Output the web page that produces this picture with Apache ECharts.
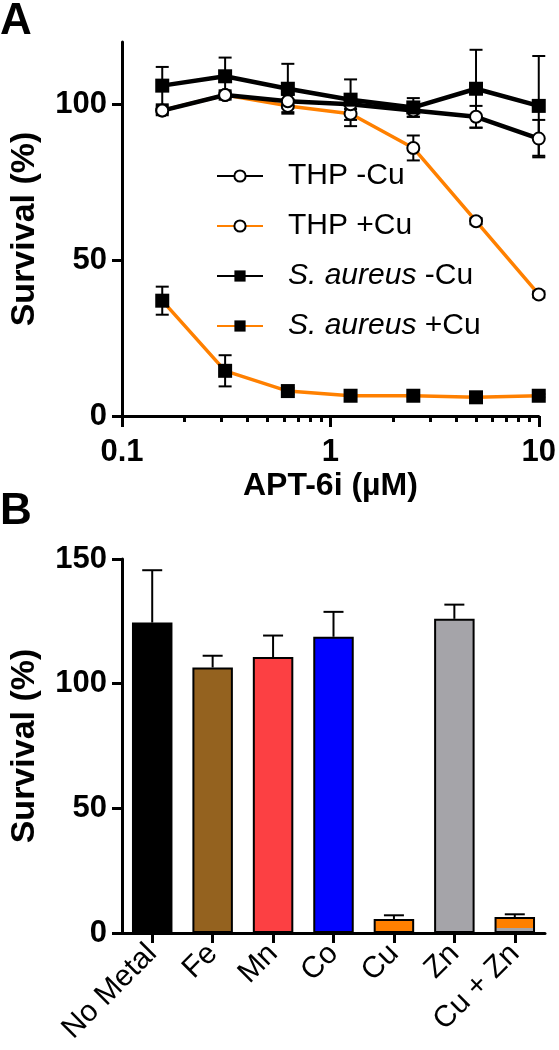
<!DOCTYPE html>
<html><head><meta charset="utf-8">
<script src="https://cdn.jsdelivr.net/npm/echarts@6/dist/echarts.min.js"></script>
<style>html,body{margin:0;padding:0;background:#fff}#c{width:559px;height:1050px}</style>
</head><body><div id="c"></div>
<script>
// ---------- Panel A data ----------
const doses = [0.156, 0.3125, 0.625, 1.25, 2.5, 5, 10];
const thpMinusCu = [98, 103, 101, 100, 98, 96, 89];
const thpMinusCuErr = [1.5, 1.5, 2, 1.5, 2, 3.5, 6];
const thpPlusCu = [98, 103, 99.5, 97, 86, 62.5, 39];
const thpPlusCuErr = [1, 1, 2, 4, 4, 1, 1];
const saMinusCu = [106, 109, 105, 101.5, 99, 105, 99.5];
const saMinusCuErr = [6, 6, 8, 6.5, 3, 12.5, 16];
const saPlusCu = [37, 14.5, 8, 6.5, 6.5, 6, 6.5];
const saPlusCuErr = [4.5, 5, 1, 0.5, 0.5, 0.5, 0.5];
const xMajorTicks = [0.1, 1, 10];
const xMinorTicks = [0.2, 0.3, 0.4, 0.5, 0.6, 0.7, 0.8, 0.9, 2, 3, 4, 5, 6, 7, 8, 9];
const yTicksA = [0, 50, 100];
const seriesNames = ['THP -Cu', 'THP +Cu', 'S. aureus -Cu', 'S. aureus +Cu'];

// ---------- Panel B data ----------
const metals = ['No Metal', 'Fe', 'Mn', 'Co', 'Cu', 'Zn', 'Cu + Zn'];
const metalSurvival = [124.5, 106.5, 110.7, 118.8, 5.6, 126, 6.4];
const metalErr = [21, 4.7, 8.6, 10, 1.5, 5.7, 1.1];
const cuZnGrayPart = 2;
const metalColors = ['#000000', '#94621f', '#fc4043', '#0000fe', '#ff8000', '#a5a4a9', '#ff8000'];

const FONT = "'Liberation Sans', Arial, sans-serif";
const ORANGE = '#ff8000';

function pairs(ys) { return doses.map((d, i) => [d, ys[i]]); }
function errData(ys, es) { return doses.map((d, i) => [d, ys[i], es[i]]); }

function errA(params, api) {
  const x = api.value(0), y = api.value(1), e = api.value(2);
  const top = api.coord([x, y + e]);
  const bot = api.coord([x, Math.max(y - e, 0)]);
  const w = 6.5;
  const st = { stroke: '#000', lineWidth: 2 };
  return { type: 'group', children: [
    { type: 'line', shape: { x1: top[0], y1: top[1], x2: bot[0], y2: bot[1] }, style: st },
    { type: 'line', shape: { x1: top[0] - w, y1: top[1], x2: top[0] + w, y2: top[1] }, style: st },
    { type: 'line', shape: { x1: bot[0] - w, y1: bot[1], x2: bot[0] + w, y2: bot[1] }, style: st }
  ]};
}
function errB(params, api) {
  const x = api.value(0), y = api.value(1), e = api.value(2);
  const base = api.coord([x, y]);
  const top = api.coord([x, y + e]);
  const w = 10;
  const st = { stroke: '#000', lineWidth: 2 };
  return { type: 'group', children: [
    { type: 'line', shape: { x1: base[0], y1: base[1], x2: top[0], y2: top[1] }, style: st },
    { type: 'line', shape: { x1: top[0] - w, y1: top[1], x2: top[0] + w, y2: top[1] }, style: st }
  ]};
}

const axisLineStyle = { color: '#000', width: 3 };
const tickLabel = { color: '#000', fontFamily: FONT, fontWeight: 'bold', fontSize: 31 };
const nameStyle = { color: '#000', fontFamily: FONT, fontWeight: 'bold', fontSize: 34 };

const cuZnFrac = cuZnGrayPart / metalSurvival[6];
const barData = metalSurvival.map((v, i) => ({
  value: v,
  itemStyle: {
    color: i === 6 ? { type: 'linear', x: 0, y: 1, x2: 0, y2: 0, colorStops: [
      { offset: 0, color: metalColors[5] }, { offset: cuZnFrac, color: metalColors[5] },
      { offset: cuZnFrac, color: ORANGE }, { offset: 1, color: ORANGE }] } : metalColors[i]
  }
}));

const chart = echarts.init(document.getElementById('c'), null, { renderer: 'canvas' });
chart.setOption({
  animation: false,
  backgroundColor: '#fff',
  textStyle: { fontFamily: FONT },
  graphic: [
    { type: 'text', left: 0, top: 0, style: { text: 'A', font: "bold 44px " + FONT, fill: '#000' } },
    { type: 'text', left: 0, top: 490, style: { text: 'B', font: "bold 44px " + FONT, fill: '#000' } }
  ],
  grid: [
    { left: 113, right: 18, top: 42, height: 374 },
    { left: 115, right: 14, top: 559, height: 374 }
  ],
  legend: {
    left: 211, top: 156, orient: 'vertical', itemWidth: 46, itemHeight: 14, itemGap: 20,
    selectedMode: false,
    data: seriesNames,
    formatter: n => n.startsWith('S. aureus') ? '{i|S. aureus}' + n.slice(9) : n,
    textStyle: {
      fontSize: 30, fontFamily: FONT, color: '#000', lineHeight: 30, padding: [0, 0, 0, 20],
      rich: { i: { fontStyle: 'italic', fontSize: 30, fontFamily: FONT, color: '#000', lineHeight: 30 } }
    }
  },
  xAxis: [
    {
      gridIndex: 0, type: 'log', logBase: 10, min: 0.1, max: 10, position: 'bottom',
      name: 'APT-6i (µM)', nameLocation: 'middle', nameGap: 54,
      nameTextStyle: { color: '#000', fontFamily: FONT, fontWeight: 'bold', fontSize: 32 },
      axisLine: { show: true, lineStyle: axisLineStyle },
      axisTick: { show: true, length: 11, lineStyle: { color: '#000', width: 3 }, customValues: xMajorTicks },
      axisLabel: Object.assign({ margin: 21, customValues: xMajorTicks }, tickLabel),
      splitLine: { show: false }, minorTick: { show: false }
    },
    {
      gridIndex: 0, type: 'log', logBase: 10, min: 0.1, max: 10, position: 'bottom',
      axisLine: { show: false },
      axisTick: { show: true, length: 6, lineStyle: { color: '#000', width: 3 }, customValues: xMinorTicks },
      axisLabel: { show: false },
      splitLine: { show: false }
    },
    {
      gridIndex: 1, type: 'category', data: metals,
      axisLine: { show: true, lineStyle: axisLineStyle },
      axisTick: { show: true, alignWithLabel: true, length: 10, lineStyle: { color: '#000', width: 3 } },
      axisLabel: { color: '#000', fontFamily: FONT, fontSize: 30, rotate: 45, margin: 16, interval: 0 },
      splitLine: { show: false }
    }
  ],
  yAxis: [
    {
      gridIndex: 0, type: 'value', min: 0, max: 120,
      name: 'Survival (%)', nameLocation: 'middle', nameGap: 80, nameRotate: 90, nameTextStyle: nameStyle,
      axisLine: { show: true, lineStyle: axisLineStyle },
      axisTick: { show: true, length: 10, lineStyle: { color: '#000', width: 3 }, customValues: yTicksA },
      axisLabel: Object.assign({ margin: 15, customValues: yTicksA }, tickLabel),
      splitLine: { show: false }
    },
    {
      gridIndex: 1, type: 'value', min: 0, max: 150, interval: 50,
      name: 'Survival (%)', nameLocation: 'middle', nameGap: 80, nameRotate: 90, nameTextStyle: nameStyle,
      axisLine: { show: true, lineStyle: axisLineStyle },
      axisTick: { show: true, length: 10, lineStyle: { color: '#000', width: 3 } },
      axisLabel: Object.assign({ margin: 15 }, tickLabel),
      splitLine: { show: false }
    }
  ],
  series: [
    { type: 'custom', name: 'errTHPplus', xAxisIndex: 0, yAxisIndex: 0, renderItem: errA, data: errData(thpPlusCu, thpPlusCuErr), z: 1, silent: true, clip: false },
    { type: 'custom', name: 'errSAplus', xAxisIndex: 0, yAxisIndex: 0, renderItem: errA, data: errData(saPlusCu, saPlusCuErr), z: 1, silent: true, clip: false },
    { type: 'custom', name: 'errTHPminus', xAxisIndex: 0, yAxisIndex: 0, renderItem: errA, data: errData(thpMinusCu, thpMinusCuErr), z: 1, silent: true, clip: false },
    { type: 'custom', name: 'errSAminus', xAxisIndex: 0, yAxisIndex: 0, renderItem: errA, data: errData(saMinusCu, saMinusCuErr), z: 1, silent: true, clip: false },
    { type: 'line', name: 'THP +Cu', xAxisIndex: 0, yAxisIndex: 0, data: pairs(thpPlusCu), z: 2,
      symbol: 'circle', symbolSize: 12, lineStyle: { color: ORANGE, width: 3.5 },
      itemStyle: { color: '#fff', borderColor: '#000', borderWidth: 2 } },
    { type: 'line', name: 'S. aureus +Cu', xAxisIndex: 0, yAxisIndex: 0, data: pairs(saPlusCu), z: 2,
      symbol: 'rect', symbolSize: 14, lineStyle: { color: ORANGE, width: 3.5 },
      itemStyle: { color: '#000', borderColor: '#000', borderWidth: 0 } },
    { type: 'line', name: 'THP -Cu', xAxisIndex: 0, yAxisIndex: 0, data: pairs(thpMinusCu), z: 3,
      symbol: 'circle', symbolSize: 12, lineStyle: { color: '#000', width: 4.5 },
      itemStyle: { color: '#fff', borderColor: '#000', borderWidth: 2 } },
    { type: 'line', name: 'S. aureus -Cu', xAxisIndex: 0, yAxisIndex: 0, data: pairs(saMinusCu), z: 3,
      symbol: 'rect', symbolSize: 14, lineStyle: { color: '#000', width: 4.5 },
      itemStyle: { color: '#000', borderColor: '#000', borderWidth: 0 } },
    { type: 'bar', name: 'metals', xAxisIndex: 2, yAxisIndex: 1, data: barData, barWidth: '67%',
      itemStyle: { borderColor: '#000', borderWidth: 2 }, z: 2 },
    { type: 'custom', name: 'errMetals', xAxisIndex: 2, yAxisIndex: 1, renderItem: errB,
      data: metals.map((m, i) => [i, metalSurvival[i], metalErr[i]]), z: 3, silent: true, clip: false }
  ]
});
</script></body></html>
